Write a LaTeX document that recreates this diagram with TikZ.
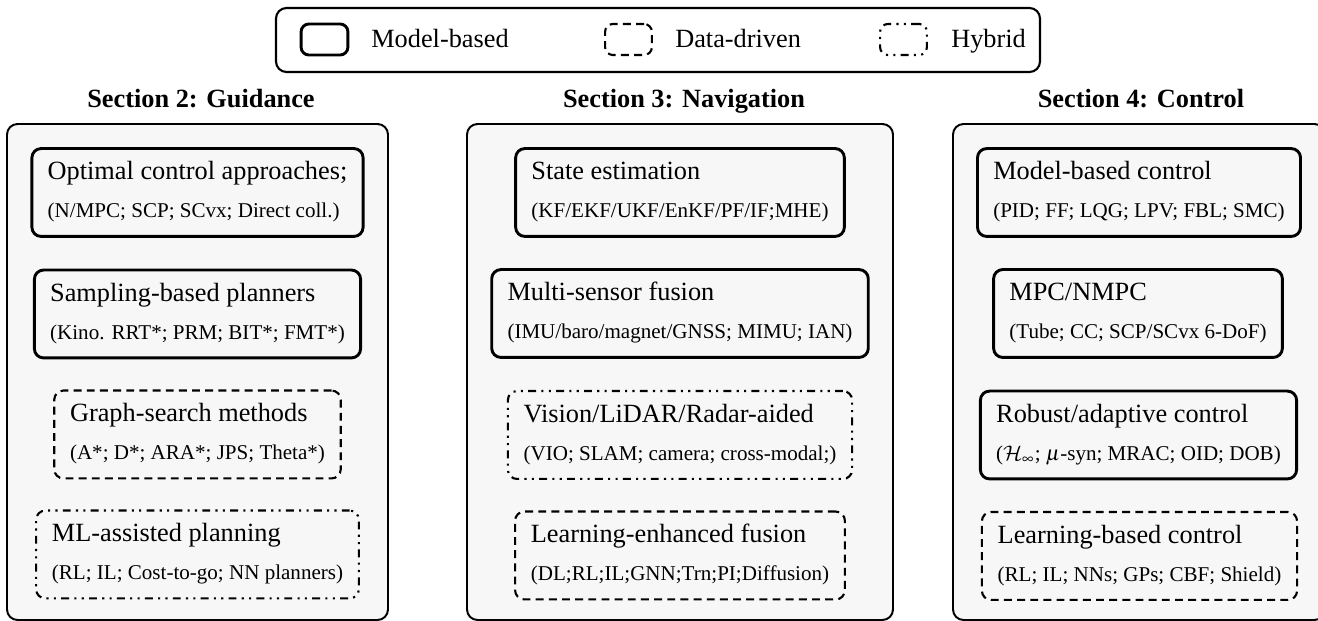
\documentclass[tikz,border=0pt]{standalone}
\usepackage{mathptmx}
\DeclareMathAlphabet{\mathcal}{OMS}{cmsy}{m}{n}
\usepackage{fontspec}
\setmainfont{Liberation Serif}
\newcommand{\blktext}[2]{\begin{tabular}{@{}l@{}}#1\\[2.4pt]\footnotesize #2\end{tabular}}

\begin{document}
\begin{tikzpicture}[x=0.38pt, y=-0.38pt,
	panel/.style={draw, line width=0.75pt, rounded corners=4pt, fill=black!3},
	blk/.style={rounded corners=3.5pt, inner xsep=6pt, inner ysep=3.4pt, minimum height=33.4pt},
	mbox/.style={blk, draw, line width=1.1pt},
	dbox/.style={blk, draw, line width=0.8pt, dash pattern=on 3pt off 2pt},
	hbox/.style={blk, draw, line width=0.8pt, dash dot dot},
	sectitle/.style={font=\bfseries, anchor=base},
	legtext/.style={anchor=base west},
	legicon/.style={minimum width=17.8pt, minimum height=11.8pt, inner sep=0pt, rounded corners=3pt}]
		%%%%% START %%%%%
		\useasboundingbox (0, 0) rectangle (1318, 621);
		
		% legend
		\draw[line width=0.8pt, rounded corners=4pt] (276, 8) rectangle (1040, 72);
		\node[legicon, draw, line width=1.1pt] (lgm) at (324.5, 39.5) {};
		\node[legtext] (lgmt) at (362, 48) {Model-based};
		\node[legicon, draw, line width=0.8pt, dash pattern=on 3pt off 2pt] (lgd) at (628.5, 39.5) {};
		\node[legtext] (lgdt) at (666, 48) {Data-driven};
		\node[legicon, draw, line width=0.8pt, dash dot dot] (lgh) at (903.5, 39.5) {};
		\node[legtext] (lght) at (942, 48) {Hybrid};
		
		% panels
		\draw[panel] (7, 124) rectangle (388, 620);
		\draw[panel] (467, 124) rectangle (893, 620);
		\draw[panel] (953, 124) rectangle (1325, 620);
		
		\node[sectitle] (sguid) at (201, 108) {Section 2: Guidance};
		\node[sectitle] (snav) at (684, 108) {Section 3: Navigation};
		\node[sectitle] (sctrl) at (1141, 108) {Section 4: Control};
		
		% guidance
		\node[mbox] (g1) at (197.5, 192.5) {\blktext{Optimal control approaches;}{(N/MPC; SCP; SCvx; Direct coll.)}};
		\node[mbox] (g2) at (197.5, 314) {\blktext{Sampling-based planners}{(Kino. RRT*; PRM; BIT*; FMT*)}};
		\node[dbox] (g3) at (197.5, 434.5) {\blktext{Graph-search methods}{(A*; D*; ARA*; JPS; Theta*)}};
		\node[hbox] (g4) at (197.5, 554.5) {\blktext{ML-assisted planning}{(RL; IL; Cost-to-go; NN planners)}};
		
		% navigation
		\node[mbox] (n1) at (680, 192.5) {\blktext{State estimation}{(KF/EKF/UKF/EnKF/PF/IF;MHE)}};
		\node[mbox] (n2) at (680, 313.5) {\blktext{Multi-sensor fusion}{(IMU/baro/magnet/GNSS; MIMU; IAN)}};
		\node[hbox] (n3) at (680, 435) {\blktext{Vision/LiDAR/Radar-aided}{(VIO; SLAM; camera; cross-modal;)}};
		\node[dbox] (n4) at (680, 555.5) {\blktext{Learning-enhanced fusion}{(DL;RL;IL;GNN;Trn;PI;Diffusion)}};
		
		% control
		\node[mbox] (c1) at (1139, 192.5) {\blktext{Model-based control}{(PID; FF; LQG; LPV; FBL; SMC)}};
		\node[mbox] (c2) at (1138, 313.5) {\blktext{MPC/NMPC}{(Tube; CC; SCP/SCvx 6-DoF)}};
		\node[mbox] (c3) at (1138.5, 435) {\blktext{Robust/adaptive control}{($\mathcal{H}_\infty$; $\mu$-syn; MRAC; OID; DOB)}};
		\node[dbox] (c4) at (1139.5, 556) {\blktext{Learning-based control}{(RL; IL; NNs; GPs; CBF; Shield)}};
		%%%%% END %%%%%
	\end{tikzpicture}
\end{document}
